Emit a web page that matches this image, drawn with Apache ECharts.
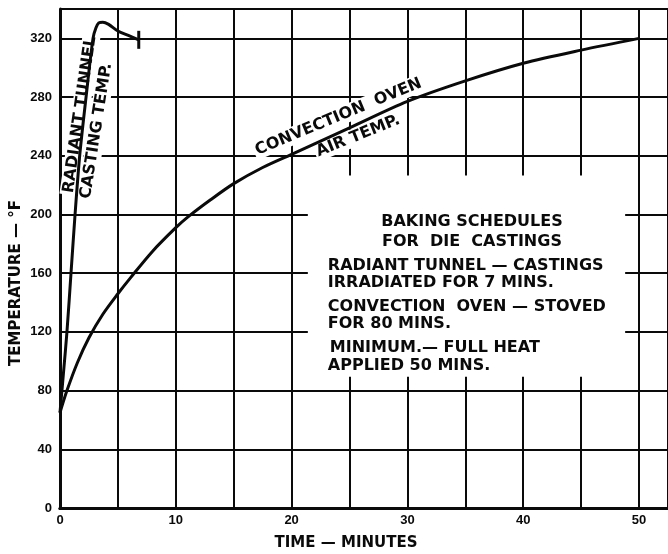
<!DOCTYPE html>
<html>
<head>
<meta charset="utf-8">
<title>Baking schedules for die castings</title>
<script src="https://cdn.jsdelivr.net/npm/echarts@6/dist/echarts.min.js"></script>
<style>
  html, body { margin: 0; padding: 0; background: #fff; }
  #chart { width: 668px; height: 554px; }
</style>
</head>
<body>
<div id="chart"></div>
<script>
// Radiant tunnel: casting temperature (°F) against time (minutes)
const radiantMinutes = [0, 0.3, 0.6, 0.95, 1.3, 1.7, 2.25, 2.85, 3.1, 3.35, 3.7, 4.2, 5.0, 5.9, 6.8];
const radiantTemp    = [65, 92, 120, 160, 200, 240, 280, 320, 327, 330.5, 331, 329.5, 325, 322, 319];

// Convection oven: air temperature (°F) against time (minutes)
const ovenMinutes = [0, 0.6, 1.5, 2.5, 3.7, 5, 6.1, 8, 10, 11, 13, 15, 17.5, 20, 25, 30, 35, 40, 45, 50];
const ovenTemp    = [65, 80, 99, 116, 132, 146, 157, 175, 191, 198, 210, 221, 232, 241, 259, 277, 291, 303, 312, 320];

// Labelled ticks
const xTickLabels = [0, 10, 20, 30, 40, 50];
const yTickLabels = [0, 40, 80, 120, 160, 200, 240, 280, 320];

// Explanatory panel text
const scheduleTitle = ['BAKING SCHEDULES', 'FOR  DIE  CASTINGS'];
const scheduleNotes = [
  'RADIANT TUNNEL — CASTINGS', 'IRRADIATED FOR 7 MINS.',
  'CONVECTION  OVEN — STOVED', 'FOR 80 MINS.',
  'MINIMUM.— FULL HEAT', 'APPLIED 50 MINS.'
];

const INK = '#0a0a0a';
const BOLD = '"DejaVu Sans", sans-serif';
const TICK_FONT = '"Liberation Sans", Arial, sans-serif';

const radiantData = radiantMinutes.map((m, i) => {
  const item = { value: [m, radiantTemp[i]] };
  if (i === radiantMinutes.length - 1) {
    // end-of-irradiation stop mark
    item.symbol = 'rect';
    item.symbolSize = [3, 18];
    item.itemStyle = { color: INK };
  }
  return item;
});
const ovenData = ovenMinutes.map((m, i) => [m, ovenTemp[i]]);

const gridLine = { show: true, lineStyle: { color: INK, width: 2 } };

const chart = echarts.init(document.getElementById('chart'), null, { renderer: 'canvas' });

chart.setOption({
  animation: false,
  backgroundColor: '#fff',
  grid: { left: 60, right: 0, top: 9, bottom: 46, containLabel: false },
  xAxis: [{
    type: 'value', min: 0, max: 52.5, interval: 5,
    axisLine: { show: true, onZero: false, lineStyle: { color: INK, width: 3 } },
    axisTick: { show: false },
    splitLine: gridLine,
    axisLabel: {
      margin: 6, color: INK, fontFamily: TICK_FONT, fontWeight: 'bold', fontSize: 13,
      showMaxLabel: false,
      formatter: v => (xTickLabels.includes(v) ? String(v) : '')
    }
  }, {
    type: 'value', position: 'top', min: 0, max: 52.5,
    axisLine: { show: true, lineStyle: { color: INK, width: 3 } },
    axisTick: { show: false }, axisLabel: { show: false }, splitLine: { show: false }
  }],
  yAxis: {
    type: 'value', min: 0, max: 340, interval: 40,
    axisLine: { show: true, onZero: false, lineStyle: { color: INK, width: 3 } },
    axisTick: { show: false },
    splitLine: gridLine,
    axisLabel: {
      margin: 8, color: INK, fontFamily: TICK_FONT, fontWeight: 'bold', fontSize: 13,
      showMaxLabel: false,
      formatter: v => (yTickLabels.includes(v) ? String(v) : '')
    }
  },
  series: [{
    name: 'Radiant tunnel casting temp.',
    type: 'line', z: 5, xAxisIndex: 0, yAxisIndex: 0,
    data: radiantData,
    smooth: 0.3,
    symbol: 'none', showSymbol: true,
    lineStyle: { color: INK, width: 3 },
    emphasis: { disabled: true }
  }, {
    name: 'Convection oven air temp.',
    type: 'line', z: 5, xAxisIndex: 0, yAxisIndex: 0,
    data: ovenData,
    smooth: 0.3,
    symbol: 'none', showSymbol: false,
    lineStyle: { color: INK, width: 3 },
    emphasis: { disabled: true }
  }]
});

// ---- annotations, anchored in data coordinates ----
const toPx = pt => chart.convertToPixel({ gridIndex: 0 }, pt);
const deg = a => a * Math.PI / 180;

function curveLabel(text, at, angle, size) {
  const p = toPx(at);
  return {
    type: 'text', x: p[0], y: p[1], rotation: deg(angle), z: 2,
    style: {
      text, font: `bold ${size}px ${BOLD}`, fill: INK,
      align: 'center', verticalAlign: 'middle',
      lineHeight: size, backgroundColor: '#fff', padding: [1, 2]
    }
  };
}

const elements = [];

elements.push(curveLabel('RADIANT TUNNEL', [1.73, 268], 81.7, 16));
elements.push(curveLabel('CASTING TEMP.', [3.15, 257], 81, 16));
elements.push(curveLabel('CONVECTION  OVEN', [24.05, 266.5], 22.5, 16));
elements.push(curveLabel('AIR TEMP.', [25.75, 253.5], 22, 16));

// white panel that interrupts the grid
const boxA = toPx([21.4, 226.5]);
const boxB = toPx([48.8, 89.5]);
elements.push({
  type: 'rect', z: 2,
  shape: { x: boxA[0], y: boxA[1], width: boxB[0] - boxA[0], height: boxB[1] - boxA[1] },
  style: { fill: '#fff' }
});

const boxCenterX = (boxA[0] + boxB[0]) / 2 + 5.5;
const textLeft = boxA[0] + 20;
const titleY = [46, 66];
scheduleTitle.forEach((t, i) => elements.push({
  type: 'text', z: 3, x: boxCenterX, y: boxA[1] + titleY[i],
  style: { text: t, font: `bold 16px ${BOLD}`, fill: INK, align: 'center', verticalAlign: 'middle' }
}));
const noteY = [90, 107, 131, 148, 172, 190];
const noteIndent = [0, 0, 0, 0, 2, 0];
scheduleNotes.forEach((t, i) => elements.push({
  type: 'text', z: 3, x: textLeft + noteIndent[i], y: boxA[1] + noteY[i],
  style: { text: t, font: `bold 16px ${BOLD}`, fill: INK, align: 'left', verticalAlign: 'middle' }
}));

// axis titles
elements.push({
  type: 'text', z: 3, x: 346, y: 543,
  style: { text: 'TIME — MINUTES', font: `bold 15px ${BOLD}`, fill: INK, align: 'center', verticalAlign: 'middle' }
});
elements.push({
  type: 'text', z: 3, x: 16, y: 283, rotation: deg(90),
  style: { text: 'TEMPERATURE — °F', font: `bold 15px ${BOLD}`, fill: INK, align: 'center', verticalAlign: 'middle' }
});

chart.setOption({ graphic: { elements } });
</script>
</body>
</html>
